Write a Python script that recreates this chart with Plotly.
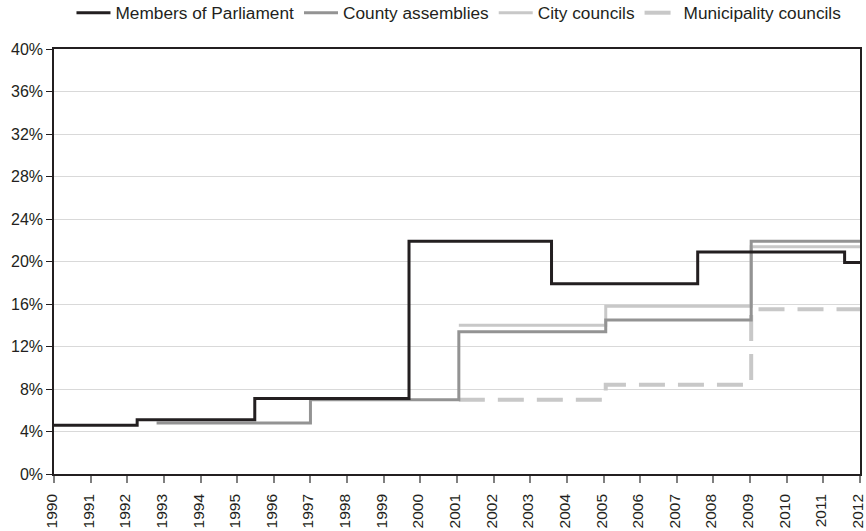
import plotly.graph_objects as go

# Data (years where each level starts; last point closes the step at 2012)
parl_x = [1990, 1992.27, 1995.48, 1999.69, 2003.58, 2007.57, 2011.58, 2012]
parl_y = [4.6, 5.1, 7.1, 21.9, 17.9, 20.9, 19.9, 19.9]

county_x = [1992.8, 1997.0, 2001.05, 2005.06, 2009.03, 2012]
county_y = [4.8, 7.0, 13.4, 14.5, 21.9, 21.9]

city_x = [2001.05, 2005.06, 2009.03, 2012]
city_y = [14.0, 15.8, 21.4, 21.4]

muni_x = [2001.05, 2005.06, 2009.03, 2012]
muni_y = [7.0, 8.4, 15.5, 15.5]

years = list(range(1990, 2013))
y_ticks = list(range(0, 41, 4))
y_labels = [f"{v}%" for v in y_ticks]

FONT = "Liberation Sans, Arial, sans-serif"
TXT = "#231f20"

fig = go.Figure()
fig.add_trace(go.Scatter(x=muni_x, y=muni_y, mode="lines", line_shape="hv",
                         name="Municipality councils",
                         line=dict(color="#c8c8c8", width=4, dash="26px,13px")))
fig.add_trace(go.Scatter(x=city_x, y=city_y, mode="lines", line_shape="hv",
                         name="City councils",
                         line=dict(color="#c8c8c8", width=3)))
fig.add_trace(go.Scatter(x=county_x, y=county_y, mode="lines", line_shape="hv",
                         name="County assemblies",
                         line=dict(color="#939393", width=3)))
fig.add_trace(go.Scatter(x=parl_x, y=parl_y, mode="lines", line_shape="hv",
                         name="Members of Parliament",
                         line=dict(color="#231f20", width=3)))

fig.update_layout(
    width=866, height=531,
    margin=dict(l=54, r=6, t=49, b=57, autoexpand=False),
    paper_bgcolor="white", plot_bgcolor="white",
    font=dict(family=FONT, size=16, color=TXT),
    showlegend=True,
    legend=dict(orientation="h", traceorder="reversed",
                xref="container", yref="container",
                x=0.530, xanchor="center", y=1 - 13 / 531, yanchor="middle",
                font=dict(size=17.25, color=TXT), itemwidth=34,
                bgcolor="rgba(0,0,0,0)"),
    xaxis=dict(range=[1990, 2012], tickmode="array", tickvals=years,
               ticktext=[str(y) for y in years], tickangle=-90,
               ticklabeloverflow="allow", ticklabelstandoff=5, ticklabelshift=-2,
               showgrid=False, zeroline=False, automargin=False,
               showline=True, linecolor="#231f20", linewidth=1.5, mirror=True,
               ticks="outside", ticklen=7, tickcolor="#808080", tickwidth=1.5,
               tickfont=dict(size=15.5, color=TXT)),
    yaxis=dict(range=[0, 40], tickmode="array", tickvals=y_ticks, ticktext=y_labels,
               showgrid=True, gridcolor="#d9d9d9", gridwidth=1, zeroline=False,
               automargin=False,
               showline=True, linecolor="#231f20", linewidth=1.5, mirror=True,
               ticks="outside", ticklen=6, tickcolor="#231f20", tickwidth=1,
               tickfont=dict(size=16, color=TXT)),
)

fig.write_html("out.html", config={"displayModeBar": False},
               post_script="document.body.style.margin='0';")
